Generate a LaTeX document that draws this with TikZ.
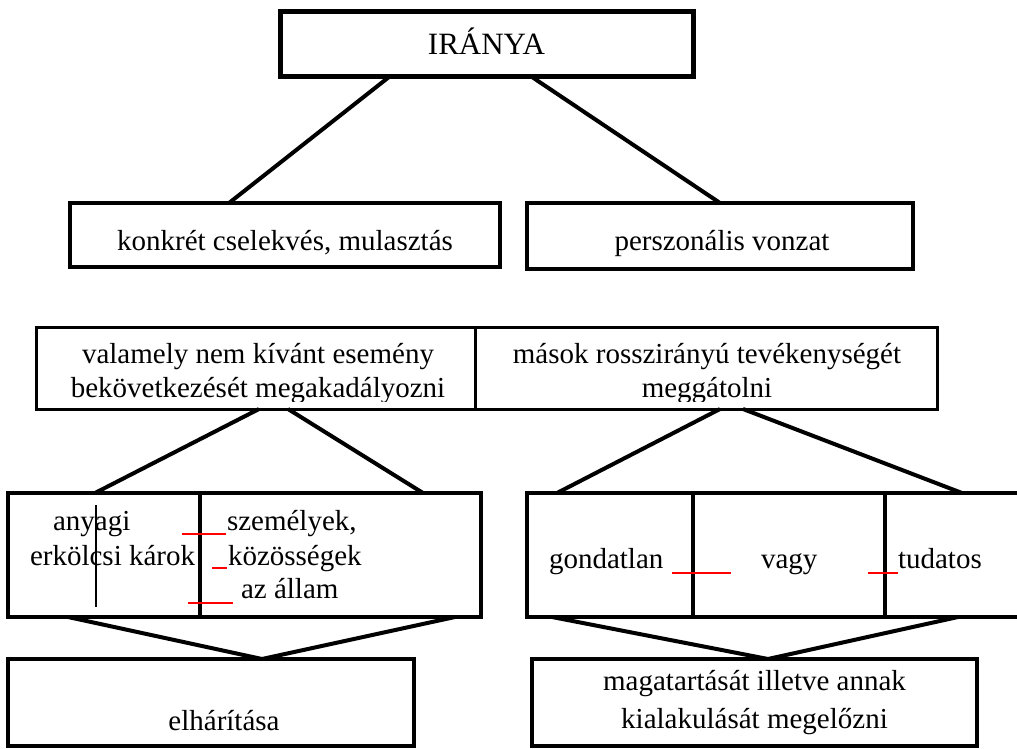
\documentclass[tikz,border=0pt]{standalone}
\usepackage{fontspec}
\setmainfont{Liberation Serif}
\begin{document}
\begin{tikzpicture}[x=1pt,y=-1pt,
  box/.style={draw, line width=3.5pt, inner sep=0pt, outer sep=0pt, rectangle},
  conn/.style={line width=4pt},
  txt/.style={inner sep=0pt, outer sep=0pt, font=\fontsize{29}{34}\selectfont},
  redmark/.style={draw=red, line width=2.5pt},
  divider/.style={line width=3.5pt}]
\clip (0,0) rectangle (1017,749);
\fill[white] (0,0) rectangle (1017,749);

% top box
\node[box, line width=5pt, minimum width=413pt, minimum height=65pt] (irany) at (486.5,44.5) {};
\node[txt, anchor=base, font=\fontsize{31}{36}\selectfont] (tirany) at (486.5,55) {IRÁNYA};

% row 1
\node[box, minimum width=430pt, minimum height=64pt] (konk) at (285,235) {};
\node[txt, anchor=base] (tkonk) at (285,250) {konkrét cselekvés, mulasztás};
\node[box, minimum width=386pt, minimum height=66pt] (persz) at (720,236) {};
\node[txt, anchor=base] (tpersz) at (722,250) {perszonális vonzat};

\draw[conn] ([xshift=109pt]irany.south west) -- ([xshift=159pt]konk.north west);
\draw[conn] ([xshift=252pt]irany.south west) -- ([xshift=193pt]persz.north west);

% row 2
\node[box, line width=3pt, minimum width=439pt, minimum height=82pt] (rL) at (255.5,368) {};
\node[box, line width=3pt, minimum width=462pt, minimum height=82pt] (rR) at (706,368) {};
\begin{scope}
\clip (36,327) rectangle (937,401);
\node[txt, anchor=base] (tL1) at (258,363) {valamely nem kívánt esemény};
\node[txt, anchor=base] (tL2) at (258,397) {bekövetkezését megakadályozni};
\node[txt, anchor=base] (tR1) at (707,363) {mások rosszirányú tevékenységét};
\node[txt, anchor=base] (tR2) at (707,397) {meggátolni};
\end{scope}

% row 3
\node[box, line width=4pt, minimum width=473pt, minimum height=124pt] (sL) at (244.5,555) {};
\node[box, line width=4pt, minimum width=492pt, minimum height=124pt] (sR) at (773,555) {};
\draw[divider] ([xshift=192pt]sL.north west) -- ([xshift=192pt]sL.south west);
\draw[divider] ([xshift=166pt]sR.north west) -- ([xshift=166pt]sR.south west);
\draw[divider] ([xshift=358pt]sR.north west) -- ([xshift=358pt]sR.south west);

\draw[conn] ([xshift=223pt]rL.south west) -- ([xshift=87pt]sL.north west);
\draw[conn] ([xshift=252pt]rL.south west) -- ([xshift=415pt]sL.north west);
\draw[conn] ([xshift=245pt]rR.south west) -- ([xshift=30pt]sR.north west);
\draw[conn] ([xshift=268pt]rR.south west) -- ([xshift=435pt]sR.north west);

\node[txt, anchor=base west] (anyagi) at (53,530) {anyagi};
\node[txt, anchor=base west] (erk) at (30,565) {erkölcsi károk};
\node[txt, anchor=base west] (szem) at (227,530) {személyek,};
\node[txt, anchor=base west] (koz) at (228,565) {közösségek};
\node[txt, anchor=base west] (allam) at (241,598) {az állam};
\coordinate (vtop) at (96,505);
\coordinate (vbot) at (96,607);
\draw[line width=2pt] (vtop) -- (vbot);
\coordinate (ra1) at (182,534); \coordinate (rb1) at (226,534);
\coordinate (ra2) at (212,568); \coordinate (rb2) at (227,568);
\coordinate (ra3) at (188,603); \coordinate (rb3) at (233,603);
\draw[redmark] (ra1) -- (rb1);
\draw[redmark] (ra2) -- (rb2);
\draw[redmark] (ra3) -- (rb3);

\node[txt, anchor=base west] (gond) at (549,568) {gondatlan};
\node[txt, anchor=base west] (vagy) at (761,568) {vagy};
\node[txt, anchor=base west] (tud) at (898,568) {tudatos};
\coordinate (ra4) at (672,573); \coordinate (rb4) at (731,573);
\coordinate (ra5) at (868,573); \coordinate (rb5) at (898,573);
\draw[redmark] (ra4) -- (rb4);
\draw[redmark] (ra5) -- (rb5);

% bottom row
\node[box, minimum width=406pt, minimum height=87pt] (bL) at (211,702.5) {};
\node[box, minimum width=445pt, minimum height=87pt] (bR) at (754.5,702.5) {};
\draw[conn] ([xshift=60pt]sL.south west) -- ([xshift=254pt]bL.north west);
\draw[conn] ([xshift=447pt]sL.south west) -- ([xshift=254pt]bL.north west);
\draw[conn] ([xshift=25pt]sR.south west) -- ([xshift=236pt]bR.north west);
\draw[conn] ([xshift=431pt]sR.south west) -- ([xshift=236pt]bR.north west);

\node[txt, anchor=base] (elh) at (224,730) {elhárítása};
\node[txt, anchor=base] (mag1) at (754.5,690) {magatartását illetve annak};
\node[txt, anchor=base] (mag2) at (754.5,728) {kialakulását megelőzni};
\end{tikzpicture}
\end{document}
